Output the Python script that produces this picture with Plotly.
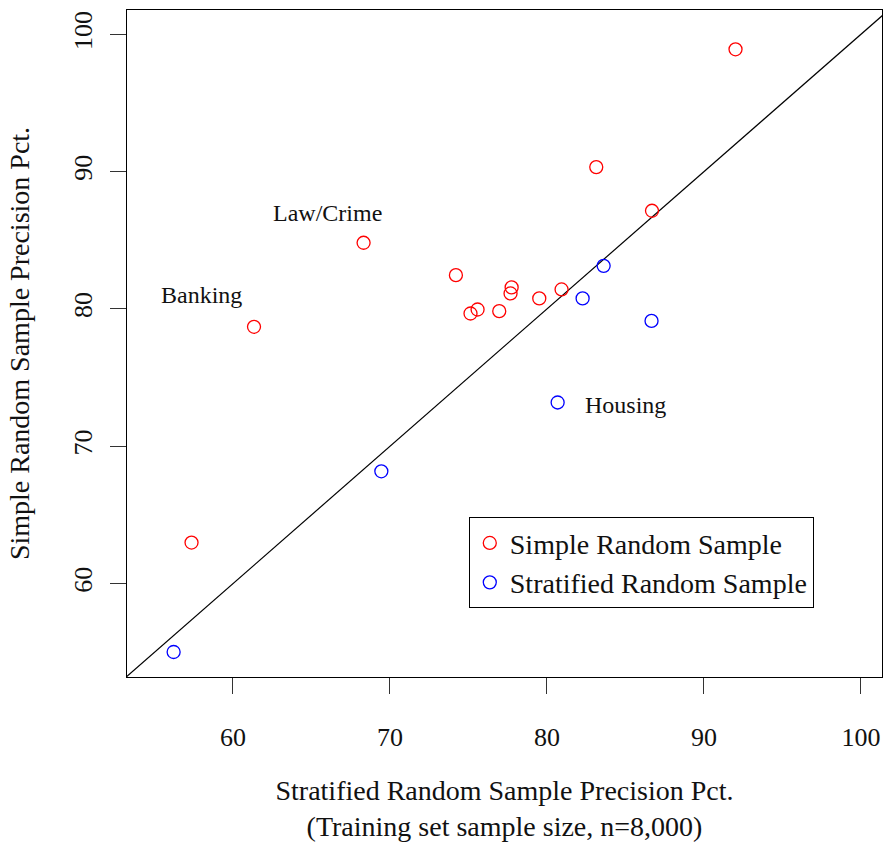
import plotly.graph_objects as go

# Simple Random Sample (red)
srs_x = [92.01, 83.14, 86.69, 68.32, 74.20, 77.75, 77.68, 79.51, 80.93, 75.58, 75.13, 76.96, 61.34, 57.36]
srs_y = [98.91, 90.33, 87.15, 84.82, 82.46, 81.57, 81.13, 80.77, 81.42, 79.96, 79.67, 79.84, 78.70, 62.99]

# Stratified Random Sample (blue)
strat_x = [56.22, 69.45, 80.68, 82.27, 83.61, 86.66]
strat_y = [55.02, 68.18, 73.19, 80.77, 83.14, 79.13]

# reference line y = x
ref_line = [40, 110]

# labels
label_text = ["Law/Crime", "Banking", "Housing"]
label_x = [66, 58, 85]
label_y = [87, 81, 73]

tick_vals = [60, 70, 80, 90, 100]
tick_text = ["60", "70", "80", "90", "100"]

FONT = "Liberation Serif"

fig = go.Figure()
fig.add_trace(go.Scatter(x=ref_line, y=ref_line, mode="lines",
                         line=dict(color="black", width=1.2), showlegend=False, hoverinfo="skip"))
fig.add_trace(go.Scatter(x=srs_x, y=srs_y, mode="markers", name="Simple Random Sample",
                         marker=dict(symbol="circle-open", size=13, color="#FF0000",
                                     line=dict(width=1.3, color="#FF0000"))))
fig.add_trace(go.Scatter(x=strat_x, y=strat_y, mode="markers", name="Stratified Random Sample",
                         marker=dict(symbol="circle-open", size=13, color="#0000FF",
                                     line=dict(width=1.3, color="#0000FF"))))

for t, x, y in zip(label_text, label_x, label_y):
    fig.add_annotation(x=x, y=y, text=t, showarrow=False, xref="x", yref="y",
                       font=dict(family=FONT, size=24, color="#111111"))

fig.update_layout(
    width=883, height=842,
    margin=dict(l=127, r=1, t=10, b=165),
    paper_bgcolor="white", plot_bgcolor="white",
    font=dict(family=FONT, size=26, color="#111111"),
    legend=dict(x=0.4527, y=0.2395, xanchor="left", yanchor="top",
                bordercolor="black", borderwidth=1, bgcolor="white",
                font=dict(family=FONT, size=28, color="#111111"),
                tracegroupgap=0),
)
fig.update_xaxes(range=[53.25, 101.34], tickvals=tick_vals, ticktext=tick_text,
                 showgrid=False, zeroline=False, showline=True, linecolor="black", linewidth=1,
                 mirror=True, ticks="outside", ticklen=16, tickcolor="#333333", tickwidth=1,
                 ticklabelstandoff=21, tickfont=dict(family=FONT, size=26), automargin=False,
                 title=dict(text="Stratified Random Sample Precision Pct.<br>(Training set sample size, n=8,000)",
                            font=dict(family=FONT, size=28), standoff=43))
fig.update_yaxes(range=[53.2, 101.77], tickvals=tick_vals, ticktext=tick_text,
                 showgrid=False, zeroline=False, showline=True, linecolor="black", linewidth=1,
                 mirror=True, ticks="outside", ticklen=16, tickcolor="#333333", tickwidth=1,
                 tickangle=-90, ticklabelstandoff=8, tickfont=dict(family=FONT, size=26), automargin=False,
                 title=dict(text="Simple Random Sample Precision Pct.",
                            font=dict(family=FONT, size=28), standoff=30))

fig.write_html("out.html", config={"displayModeBar": False},
               post_script="document.body.style.margin='0';document.body.style.overflow='hidden';")
